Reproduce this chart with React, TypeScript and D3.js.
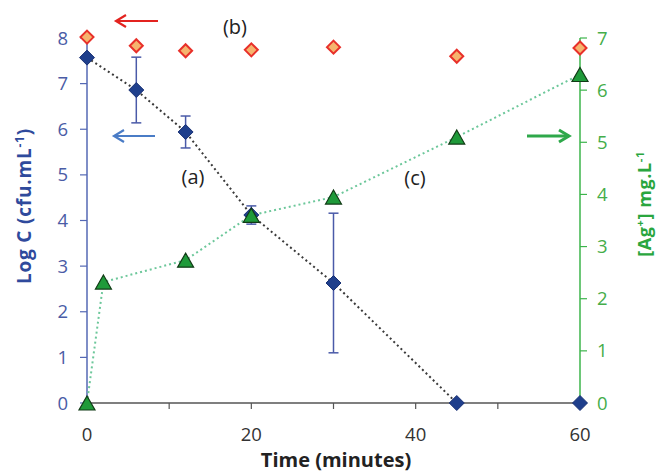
import React from "react";
import * as d3 from "d3";

const times = [0, 6, 12, 20, 30, 45, 60];
const logC = [7.57, 6.86, 5.94, 4.12, 2.63, 0, 0];
const logCErr = [0, 0.72, 0.35, 0.2, 1.53, 0, 0];
const lineTimes = [0, 6, 12, 20, 30, 45];
const bValues = [8.02, 7.83, 7.72, 7.74, 7.8, 7.6, 7.78];
const agTimes = [0, 2, 12, 20, 30, 45, 60];
const agValues = [0, 2.32, 2.74, 3.6, 3.95, 5.1, 6.3];
const xTicks = [0, 10, 20, 30, 40, 50, 60];
const xLabels = [0, 20, 40, 60];
const leftTicks = [0, 1, 2, 3, 4, 5, 6, 7, 8];
const rightTicks = [0, 1, 2, 3, 4, 5, 6, 7];

const W = 658, H = 472;
const FONT = "'Open Sans', 'Noto Sans', sans-serif";

export default function App() {
  const x = d3.scaleLinear().domain([0, 60]).range([87, 580]);
  const yL = d3.scaleLinear().domain([0, 8]).range([403, 38]);
  const yR = d3.scaleLinear().domain([0, 7]).range([403, 38]);

  const lineA = d3.line<number>().x((t) => x(t)).y((t, i) => yL(logC[i]));
  const lineC = d3.line<number>().x((t) => x(t)).y((t, i) => yR(agValues[i]));
  const diamond = (cx: number, cy: number, r: number) =>
    `M${cx},${cy - r}L${cx + r},${cy}L${cx},${cy + r}L${cx - r},${cy}Z`;
  const tri = (cx: number, cy: number, w: number, h: number) =>
    `M${cx},${cy - h / 2}L${cx + w / 2},${cy + h / 2}L${cx - w / 2},${cy + h / 2}Z`;

  const blueAxis = "#5468b4";
  const blueText = "#4a5ca6";
  const green = "#3cb44b";
  const greenText = "#45ad4a";

  return (
    <svg width={W} height={H} style={{ position: "absolute", left: 0, top: 0, background: "#fff" }} fontFamily={FONT}>
      <rect width={W} height={H} fill="#fff" />
      {/* bottom axis */}
      <line x1={x(0)} x2={x(60)} y1={yL(0)} y2={yL(0)} stroke="#555" strokeWidth={1.5} />
      {xTicks.map((t) => (
        <line key={t} x1={x(t)} x2={x(t)} y1={yL(0)} y2={yL(0) + 6} stroke="#555" strokeWidth={1.2} />
      ))}
      {xLabels.map((t) => (
        <text key={t} x={x(t)} y={441} textAnchor="middle" fontSize={18.5} fill="#333">{t}</text>
      ))}
      <text x={336} y={467} textAnchor="middle" fontSize={20} fontWeight="bold" fill="#222">Time (minutes)</text>

      {/* left axis */}
      <line x1={x(0)} x2={x(0)} y1={yL(0)} y2={yL(8)} stroke={blueAxis} strokeWidth={1.5} />
      {leftTicks.map((v) => (
        <g key={v}>
          <line x1={x(0) - 7} x2={x(0)} y1={yL(v)} y2={yL(v)} stroke={blueAxis} strokeWidth={1.2} />
          <text x={68} y={yL(v) + 6.5} textAnchor="end" fontSize={18.5} fill={blueText}>{v}</text>
        </g>
      ))}
      <text transform="translate(31,206) rotate(-90)" textAnchor="middle" fontSize={19} fontWeight="bold" letterSpacing={0.8} fill="#2f4a9c">
        Log C (cfu.mL<tspan dy={-7} fontSize={12}>-1</tspan><tspan dy={7}>)</tspan>
      </text>

      {/* right axis */}
      <line x1={x(60)} x2={x(60)} y1={yR(0)} y2={yR(7)} stroke={green} strokeWidth={1.5} />
      {rightTicks.map((v) => (
        <g key={v}>
          <line x1={x(60)} x2={x(60) + 7} y1={yR(v)} y2={yR(v)} stroke={green} strokeWidth={1.2} />
          <text x={597} y={yR(v) + 6.5} textAnchor="start" fontSize={18.5} fill={greenText}>{v}</text>
        </g>
      ))}
      <text transform="translate(651,204) rotate(-90)" textAnchor="middle" fontSize={18} fontWeight="bold" letterSpacing={0.6} fill="#2aa63e">
        [Ag<tspan dy={-7} fontSize={11}>+</tspan><tspan dy={7}>] mg.L</tspan><tspan dy={-7} fontSize={11}>-1</tspan>
      </text>

      {/* (c) green dotted line */}
      <path d={lineC(agTimes) || ""} fill="none" stroke="#6cc79a" strokeWidth={2} strokeDasharray="2,3" />
      {/* (a) black dotted line */}
      <path d={lineA(lineTimes) || ""} fill="none" stroke="#3a3a3a" strokeWidth={2} strokeDasharray="2,3" />

      {/* error bars */}
      {times.map((t, i) =>
        logCErr[i] > 0 ? (
          <g key={t} stroke="#4a5aa8" strokeWidth={1.5}>
            <line x1={x(t)} x2={x(t)} y1={yL(logC[i] - logCErr[i])} y2={yL(logC[i] + logCErr[i])} />
            <line x1={x(t) - 5} x2={x(t) + 5} y1={yL(logC[i] - logCErr[i])} y2={yL(logC[i] - logCErr[i])} />
            <line x1={x(t) - 5} x2={x(t) + 5} y1={yL(logC[i] + logCErr[i])} y2={yL(logC[i] + logCErr[i])} />
          </g>
        ) : null
      )}
      {/* blue diamonds */}
      {times.map((t, i) => (
        <path key={t} d={diamond(x(t), yL(logC[i]), 7.5)} fill="#1f3f8c" stroke="#1a3275" strokeWidth={1} />
      ))}
      {/* red diamonds */}
      {times.map((t, i) => (
        <path key={t} d={diamond(x(t), yL(bValues[i]), 6.5)} fill="#f6b46e" stroke="#e8302a" strokeWidth={2} />
      ))}
      {/* green triangles */}
      {agTimes.map((t, i) => (
        <path key={t} d={tri(x(t), yR(agValues[i]), 16, 14)} fill="#1f9a3a" stroke="#113b16" strokeWidth={1.2} />
      ))}

      {/* annotations */}
      <g fill="none" strokeWidth={2.2}>
        <g stroke="#e3231f">
          <line x1={158} x2={116} y1={21} y2={21} />
          <polyline points="126,15 116,21 126,27" />
        </g>
        <g stroke="#4a7cc6">
          <line x1={155} x2={114} y1={136} y2={136} />
          <polyline points="124,130 114,136 124,142" />
        </g>
        <g stroke="#2ea84a" strokeWidth={3}>
          <line x1={527} x2={569} y1={136} y2={136} />
          <polyline points="559,130 569,136 559,142" />
        </g>
      </g>
      <text x={235} y={34} textAnchor="middle" fontSize={20} fill="#222">(b)</text>
      <text x={193} y={184} textAnchor="middle" fontSize={20} fill="#222">(a)</text>
      <text x={415} y={185} textAnchor="middle" fontSize={20} fill="#222">(c)</text>
    </svg>
  );
}
